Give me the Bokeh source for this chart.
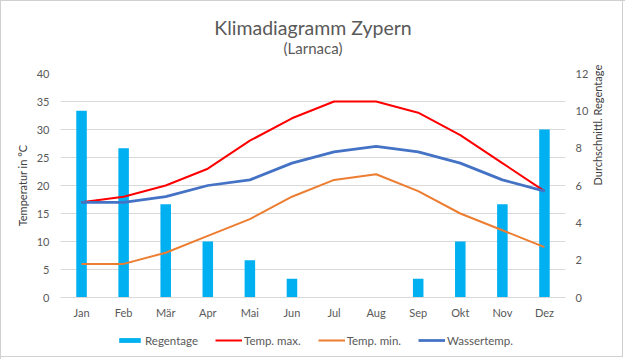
import math
from bokeh.plotting import figure
from bokeh.layouts import column
from bokeh.models import (LinearAxis, Range1d, FactorRange, FixedTicker, Legend, LegendItem,
                          ColumnDataSource, Title)
from bokeh.core.properties import value
from bokeh.embed import file_html
from bokeh.resources import INLINE

months = ["Jan", "Feb", "Mär", "Apr", "Mai", "Jun", "Jul", "Aug", "Sep", "Okt", "Nov", "Dez"]
regentage = [10, 8, 5, 3, 2, 1, 0, 0, 1, 3, 5, 9]
temp_max = [17, 18, 20, 23, 28, 32, 35, 35, 33, 29, 24, 19]
temp_min = [6, 6, 8, 11, 14, 18, 21, 22, 19, 15, 12, 9]
wasser = [17, 17, 18, 20, 21, 24, 26, 27, 26, 24, 21, 19]
left_ticks = [0, 5, 10, 15, 20, 25, 30, 35, 40]
right_ticks = [0, 2, 4, 6, 8, 10, 12]
title_main = "Klimadiagramm Zypern"
title_sub = "(Larnaca)"
label_left = "Temperatur in °C"
label_right = "Durchschnittl. Regentage"
series_names = ["Regentage", "Temp. max.", "Temp. min.", "Wassertemp."]

FONT = "Lato"
GREY = "#595959"
C_BAR, C_MAX, C_MIN, C_W = "#00B0F0", "#FF0000", "#ED7D31", "#4472C4"
W = 625
TOP_H = 58
LEG_H = 30
MAIN_H = 359 - TOP_H - LEG_H


def strip(height, x_range, y_range):
    f = figure(width=W, height=height, x_range=x_range, y_range=y_range,
               output_backend="svg", toolbar_location=None, x_axis_location=None,
               y_axis_location=None, min_border=0)
    f.outline_line_color = None
    f.grid.visible = False
    f.border_fill_color = None
    f.background_fill_color = None
    return f


# ---- title strip (texts only) ----
t = strip(TOP_H, Range1d(0, W), Range1d(TOP_H, 0))
t.text(x=[312.5], y=[27], text=[title_main], text_align="center", text_baseline="middle",
       text_font=value(FONT), text_font_size="19.5px", text_color=GREY)
t.text(x=[312.5], y=[47], text=[title_sub], text_align="center", text_baseline="middle",
       text_font=value(FONT), text_font_size="15px", text_color=GREY)

# ---- chart ----
src = ColumnDataSource(dict(m=months, r=regentage, tmax=temp_max, tmin=temp_min, w=wasser))

p = figure(x_range=FactorRange(*months, range_padding=0), y_range=Range1d(0, 40),
           width=W, height=MAIN_H, output_backend="svg", toolbar_location=None,
           title=None, min_border_left=60, min_border_right=60,
           min_border_top=15, min_border_bottom=32)
p.border_fill_color = None
p.background_fill_color = None
p.extra_y_ranges = {"rain": Range1d(0, 12)}

p.vbar(x="m", top="r", width=0.25, source=src, y_range_name="rain",
       fill_color=C_BAR, line_color=None)
p.line(x="m", y="tmax", source=src, line_color=C_MAX, line_width=2, line_join="round")
p.line(x="m", y="tmin", source=src, line_color=C_MIN, line_width=2, line_join="round")
p.line(x="m", y="w", source=src, line_color=C_W, line_width=2.75, line_join="round")

p.outline_line_color = None
p.xgrid.grid_line_color = None
p.ygrid.grid_line_color = "#D9D9D9"
p.ygrid.ticker = FixedTicker(ticks=left_ticks)

ax_l = p.yaxis[0]
ax_l.ticker = FixedTicker(ticks=left_ticks)
ax_r = LinearAxis(y_range_name="rain", ticker=FixedTicker(ticks=right_ticks),
                  axis_label=label_right)
p.add_layout(ax_r, "right")

for ax in (ax_l, ax_r):
    ax.axis_line_color = None
    ax.major_tick_line_color = None
    ax.minor_tick_line_color = None
    ax.major_label_text_font = FONT
    ax.major_label_text_font_size = "11px"
    ax.major_label_text_color = GREY
    ax.axis_label_text_font = FONT
    ax.axis_label_text_font_size = "11px"
    ax.axis_label_text_font_style = "normal"
    ax.axis_label_text_color = "#404040"
    ax.axis_label_standoff = 6
ax_l.major_label_standoff = 5
ax_r.major_label_standoff = 4
ax_r.axis_label_orientation = math.pi / 2  # read bottom-to-top like the reference

# left axis title, shifted up along the axis as in the reference
p.add_layout(Title(text=label_left, align="center", offset=34, text_font=FONT,
                   text_font_size="11px", text_font_style="normal",
                   text_color="#404040"), "left")

xa = p.xaxis[0]
xa.axis_line_color = "#D9D9D9"
xa.major_tick_line_color = None
xa.minor_tick_line_color = None
xa.major_label_text_font = FONT
xa.major_label_text_font_size = "11px"
xa.major_label_text_color = GREY
xa.major_label_standoff = 2

# ---- legend strip: proxies of the same series, kept outside the strip's visible range ----
lg = strip(LEG_H, FactorRange(*months), Range1d(100, 101))
r_bar = lg.vbar(x="m", top="r", width=0.25, source=src, fill_color=C_BAR, line_color=None)
r_max = lg.line(x="m", y="tmax", source=src, line_color=C_MAX, line_width=2)
r_min = lg.line(x="m", y="tmin", source=src, line_color=C_MIN, line_width=2)
r_w = lg.line(x="m", y="w", source=src, line_color=C_W, line_width=2.75)

legend = Legend(items=[LegendItem(label=n, renderers=[r]) for n, r in
                       zip(series_names, [r_bar, r_max, r_min, r_w])],
                orientation="horizontal", location=(56, 12),
                glyph_width=27, glyph_height=6, label_height=14, label_standoff=2, spacing=17,
                padding=0, margin=0, border_line_color=None, background_fill_alpha=0,
                label_text_font=FONT, label_text_font_size="11.5px", label_text_color=GREY)
lg.add_layout(legend, "center")

layout = column(t, p, lg, spacing=0,
                styles={"box-shadow": "inset 1px 1px 0 0 #D0D0D0, inset -2px -2px 0 0 #FFFFFF, "
                                      "inset -3px -3px 0 0 #D0D0D0",
                        "background-color": "#FFFFFF"})

open("out.html", "w").write(file_html(layout, INLINE))
